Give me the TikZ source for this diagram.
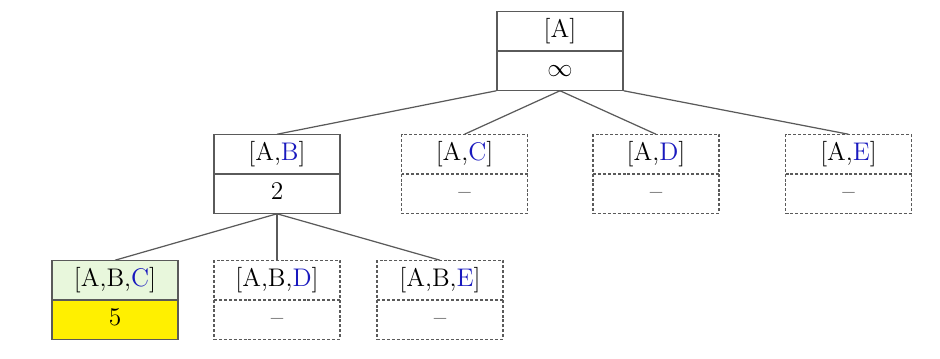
\documentclass[tikz,border=0pt]{standalone}
\usepackage{tikz}
\usetikzlibrary{calc,shapes.multipart}

\definecolor{edgegray}{RGB}{90,90,90}
\definecolor{keyblue}{RGB}{25,25,190}
\definecolor{leafgreen}{RGB}{232,247,220}
\definecolor{costyellow}{RGB}{255,240,0}

\tikzset{
  cell/.style={rectangle split,rectangle split parts=2,draw=edgegray,line width=0.7pt,
               text width=2.4cm,align=center,inner xsep=0.06cm,inner ysep=0.98mm,
               font=\fontsize{14.5}{16}\selectfont},
  open/.style={cell},
  pruned/.style={cell,dash pattern=on 1.7pt off 1.1pt},
  branch/.style={draw=edgegray,line width=0.7pt}
}
\newcommand{\nk}[1]{\textcolor{keyblue}{#1}}
\newcommand{\pathcost}[2]{#1\strut\nodepart{two}#2\strut}

\begin{document}
\begin{tikzpicture}[line cap=butt,line join=miter]
  \useasboundingbox (0,0) rectangle (18.8,-7.16);

  % --- root ---
  \node[open] (a) at (11.20,-1.02) {\pathcost{[A]}{$\infty$}};

  % --- second level ---
  \node[open]   (ab) at (5.54,-3.48)  {\pathcost{[A,\nk{B}]}{2}};
  \node[pruned] (ac) at (9.29,-3.48)  {\pathcost{[A,\nk{C}]}{--}};
  \node[pruned] (ad) at (13.12,-3.48) {\pathcost{[A,\nk{D}]}{--}};
  \node[pruned] (ae) at (16.97,-3.48) {\pathcost{[A,\nk{E}]}{--}};

  % --- third level ---
  \node[open,rectangle split part fill={leafgreen,costyellow}] (abc) at (2.30,-6.00)
        {\pathcost{[A,B,\nk{C}]}{5}};
  \node[pruned] (abd) at (5.54,-6.00) {\pathcost{[A,B,\nk{D}]}{--}};
  \node[pruned] (abe) at (8.80,-6.00) {\pathcost{[A,B,\nk{E}]}{--}};

  % --- branches ---
  \draw[branch] (a.south west) -- (ab.north);
  \draw[branch] (a.south) -- (ac.north);
  \draw[branch] (a.south) -- (ad.north);
  \draw[branch] (a.south east) -- (ae.north);
  \draw[branch] (ab.south) -- (abc.north);
  \draw[branch] (ab.south) -- (abd.north);
  \draw[branch] (ab.south) -- (abe.north);
\end{tikzpicture}
\end{document}
